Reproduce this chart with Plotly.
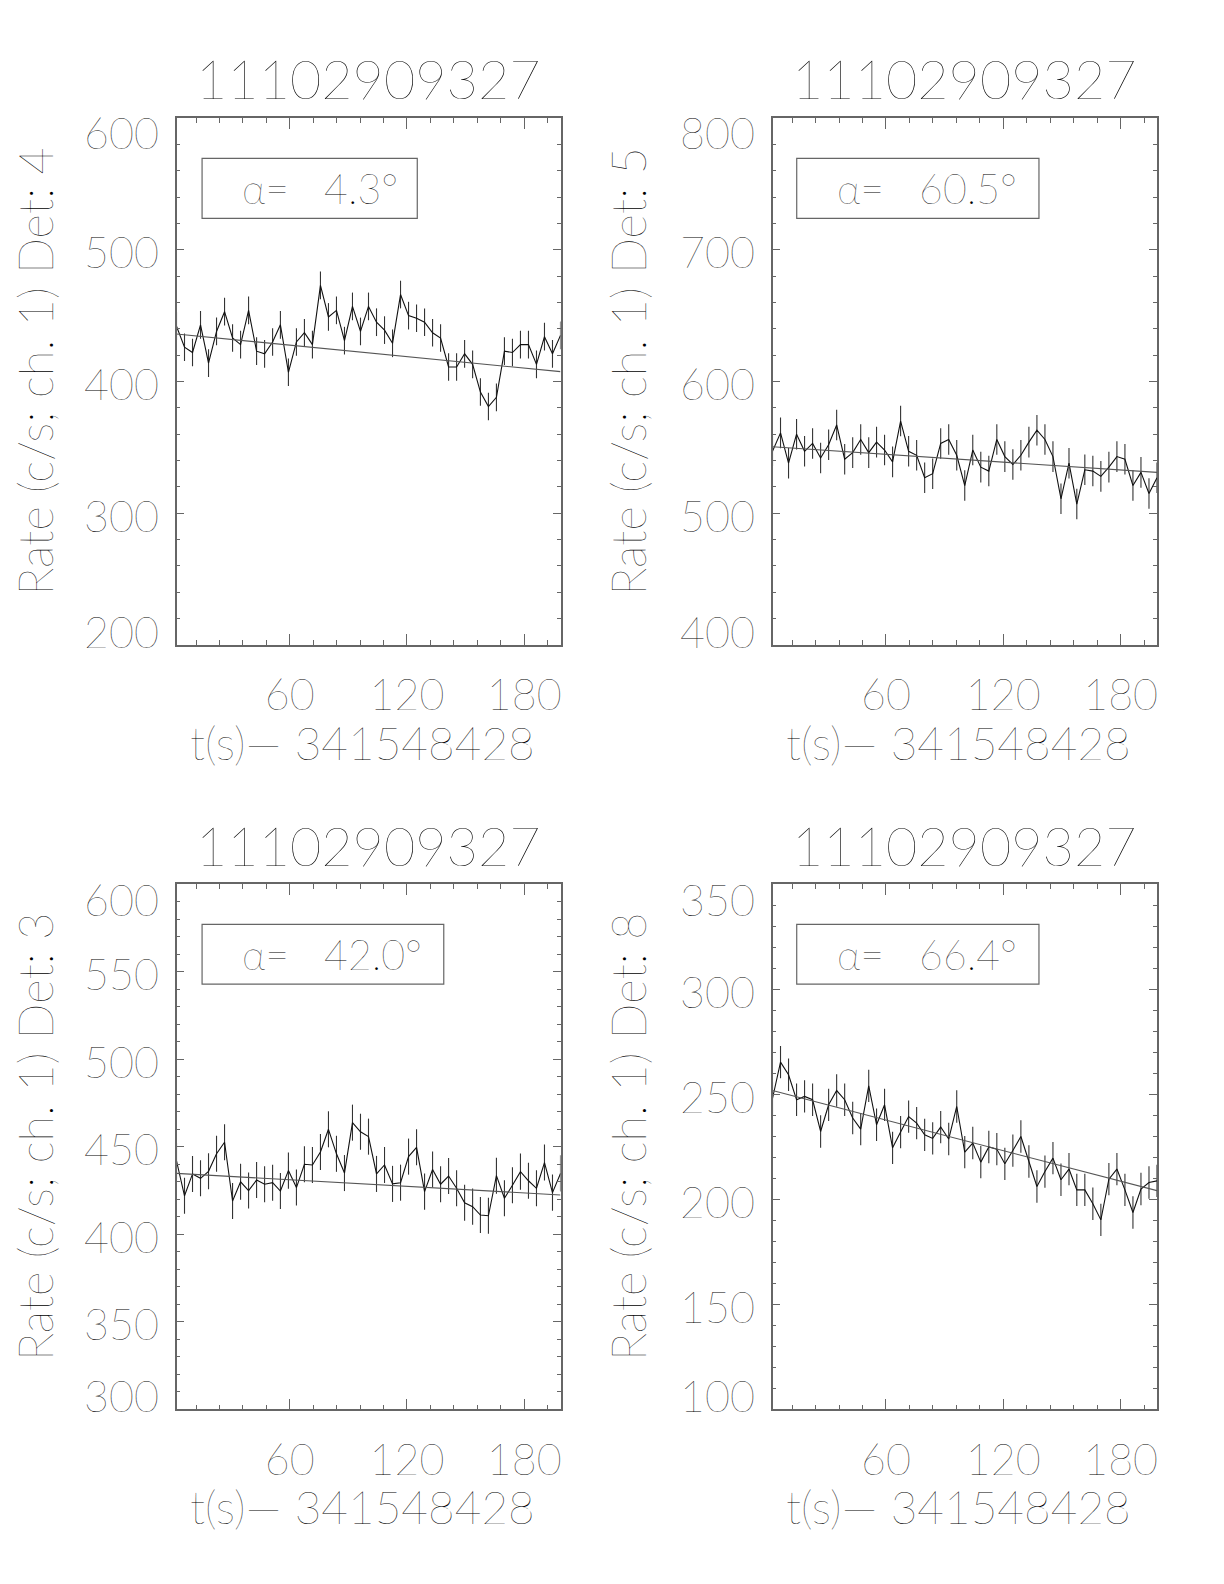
import plotly.graph_objects as go

# ---------------- data ----------------
t_bins = [2.0, 6.1, 10.2, 14.3, 18.4, 22.5, 26.6, 30.7, 34.8, 38.9, 43.0, 47.1, 51.2, 55.2,
          59.3, 63.4, 67.5, 71.6, 75.7, 79.8, 83.9, 88.0, 92.1, 96.2, 100.3, 104.4, 108.5,
          112.6, 116.7, 120.8, 124.9, 129.0, 133.1, 137.2, 141.3, 145.4, 149.5, 153.6, 157.6,
          161.7, 165.8, 169.9, 174.0, 178.1, 182.2, 186.3, 190.4, 194.5, 198.6]

rate_det4 = [442, 426, 422, 443, 414, 438, 453, 433, 428, 454, 423, 421, 430, 443, 407, 430,
             437, 428, 473, 449, 454, 431, 457, 438, 457, 445, 439, 429, 466, 450, 448, 445,
             437, 433, 411, 411, 421, 413, 392, 381, 388, 423, 422, 428, 428, 413, 434, 421, 435]
rate_det5 = [547, 561, 538, 560, 547, 553, 542, 552, 567, 541, 546, 556, 546, 554, 548, 539,
             570, 547, 544, 527, 530, 553, 556, 544, 521, 548, 535, 532, 556, 543, 537, 544,
             554, 563, 556, 543, 511, 538, 507, 533, 532, 528, 535, 543, 541, 521, 531, 515, 527]
rate_det3 = [442, 422, 434.5, 432, 436, 446, 452.6, 419, 430, 425, 431, 428.6, 429.5, 424.7,
             436.4, 426.7, 440, 439.6, 447, 460, 446, 435, 463.8, 458.6, 455.8, 434.5, 439.6,
             428.8, 429.5, 444.4, 449.7, 424.4, 437, 428.6, 433.3, 426.3, 418, 415.8, 411,
             410.6, 433.5, 420.6, 428, 435.8, 430.6, 426.3, 441, 423.8, 434.8]
rate_det8 = [248, 265.3, 259.3, 247.4, 249, 247.4, 232.3, 245, 251.8, 247.4, 238.7, 233.4, 254,
             235.5, 245, 224.5, 232, 239.4, 236.3, 230.7, 229, 234.4, 228.7, 244.2, 222.5, 226.8,
             217.7, 224.9, 223.9, 216.9, 223.2, 229.9, 218, 206.1, 213.2, 219.6, 209.3, 214.4,
             204.5, 204.5, 197.9, 190.2, 209.6, 214.4, 204.5, 193.7, 204.9, 208, 208.8]

rate_errors = [10.5, 11.6, 10.3, 7.7]          # 1-sigma error per panel (c/s)
fit_start = [436.0, 550.5, 434.8, 251.8]       # background fit at first bin
fit_end = [407.5, 531.0, 422.5, 204.1]         # background fit at last bin

detectors = ["4", "5", "3", "8"]
alphas = ["4.3", "60.5", "42.0", "66.4"]
burst_id = "11102909327"
t_offset = "341548428"

y_ranges = [[200, 600], [400, 800], [300, 600], [100, 350]]
y_major = [[200, 300, 400, 500, 600], [400, 500, 600, 700, 800],
           [300, 350, 400, 450, 500, 550, 600], [100, 150, 200, 250, 300, 350]]
y_minor_step = [20, 20, 10, 10]
x_major = [60, 120, 180]

rates = [rate_det4, rate_det5, rate_det3, rate_det8]

# ---------------- layout geometry ----------------
W, H = 1224, 1584
OFF = 8  # page body margin compensation (px)
def px_x(p):
    return (p - OFF) / W
def px_y(p):
    return 1 - (p - OFF) / H

x_doms = [[px_x(176.5), px_x(560.5)], [px_x(772.5), px_x(1157.0)]]
y_doms = [[px_y(645.0), px_y(118.0)], [px_y(1409.3), px_y(884.3)]]
panel_top = [118.0, 884.3]
panel_bot = [645.0, 1409.3]
panel_cx = [(176.5 + 560.5) / 2, (772.5 + 1157.0) / 2]
box_right = [0.627, 0.693, 0.696, 0.693]

FONT = "Lato"
WT = 200
TXT = "#000000"
AX = "#666666"

fig = go.Figure()
layout = dict(
    template="none",
    width=W, height=H, margin=dict(l=0, r=0, t=0, b=0, pad=0, autoexpand=False),
    paper_bgcolor="white", plot_bgcolor="white", showlegend=False,
    font=dict(family=FONT, color=TXT, weight=WT),
)
annotations = []
shapes = []

for k in range(4):
    col = k % 2
    row = k // 2
    xa = "x" if k == 0 else f"x{k+1}"
    ya = "y" if k == 0 else f"y{k+1}"
    xkey = "xaxis" if k == 0 else f"xaxis{k+1}"
    ykey = "yaxis" if k == 0 else f"yaxis{k+1}"

    fig.add_trace(go.Scatter(
        x=t_bins, y=rates[k], mode="lines", xaxis=xa, yaxis=ya,
        line=dict(color="#111111", width=1.1),
        error_y=dict(type="constant", value=rate_errors[k], width=0,
                     thickness=1.1, color="#333333"),
        hoverinfo="skip"))
    fig.add_trace(go.Scatter(
        x=[t_bins[0], t_bins[-1]], y=[fit_start[k], fit_end[k]], mode="lines",
        xaxis=xa, yaxis=ya, line=dict(color="#555555", width=1.1), hoverinfo="skip"))

    layout[xkey] = dict(
        domain=x_doms[col], anchor=ya, range=[t_bins[0], t_bins[-1]], automargin=False,
        tickmode="array", tickvals=x_major, ticktext=[str(v) for v in x_major],
        ticks="inside", ticklen=11, tickwidth=1, tickcolor=AX,
        minor=dict(tickmode="linear", tick0=0, dtick=12, ticks="inside",
                   ticklen=5, tickwidth=1, tickcolor=AX),
        showline=True, linecolor=AX, linewidth=1.5, mirror="ticks",
        showgrid=False, zeroline=False,
        tickfont=dict(family=FONT, size=43, color=TXT, weight=WT),
        ticklabelstandoff=12,
    )
    # y tick marks from the axis; labels placed as IDL does (end labels kept inside the frame)
    layout[ykey] = dict(
        domain=y_doms[row], anchor=xa, range=y_ranges[k], automargin=False,
        tickmode="array", tickvals=y_major[k], showticklabels=False,
        ticks="inside", ticklen=8, tickwidth=1, tickcolor=AX,
        minor=dict(tickmode="linear", tick0=0, dtick=y_minor_step[k], ticks="inside",
                   ticklen=4, tickwidth=1, tickcolor=AX),
        showline=True, linecolor=AX, linewidth=1.5, mirror="ticks",
        showgrid=False, zeroline=False,
    )
    lo, hi = y_ranges[k]
    for v in y_major[k]:
        shift = -15 if v == hi else (14 if v == lo else -2)
        annotations.append(dict(
            text=str(v), xref=f"{xa} domain", yref=ya, x=0, y=v,
            xanchor="right", yanchor="middle", xshift=-16, yshift=shift,
            showarrow=False, font=dict(family=FONT, size=43, color=TXT, weight=WT)))

    top_px = panel_top[row]
    bot_px = panel_bot[row]
    cx = panel_cx[col]

    # title
    annotations.append(dict(
        text=burst_id, xref="paper", yref="paper", x=px_x(cx), y=px_y(top_px - 39),
        xanchor="center", yanchor="middle", showarrow=False,
        font=dict(family=FONT, size=54, color=TXT, weight=WT)))
    # x title
    annotations.append(dict(
        text=f"t(s)\u2014 {t_offset}", xref="paper", yref="paper",
        x=px_x(cx - 6), y=px_y(bot_px + 97),
        xanchor="center", yanchor="middle", showarrow=False,
        font=dict(family=FONT, size=46, color=TXT, weight=WT)))
    # y title
    annotations.append(dict(
        text=f"Rate (c/s; ch. 1) Det: {detectors[k]}", xref="paper", yref="paper",
        x=px_x(35 if col == 0 else 628), y=px_y((top_px + bot_px) / 2 - 10), textangle=-90,
        xanchor="center", yanchor="middle", showarrow=False,
        font=dict(family=FONT, size=47, color=TXT, weight=WT)))
    # alpha box
    box_left = 0.0666 if col == 0 else 0.063
    shapes.append(dict(
        type="rect", xref=f"{xa} domain", yref=f"{ya} domain",
        x0=box_left, x1=box_right[k], y0=0.8097, y1=0.9235,
        line=dict(color=AX, width=1.2), fillcolor="rgba(0,0,0,0)"))
    annotations.append(dict(
        text=f"\u03b1=\u00a0\u00a0\u00a0{alphas[k]}\u00b0", xref=f"{xa} domain", yref=f"{ya} domain",
        x=box_left + 38 / 384.5, y=(0.8097 + 0.9235) / 2, xanchor="left", yanchor="middle",
        showarrow=False, font=dict(family=FONT, size=41, color=TXT, weight=WT)))

layout["annotations"] = annotations
layout["shapes"] = shapes
fig.update_layout(**layout)
fig.write_html("out.html")
